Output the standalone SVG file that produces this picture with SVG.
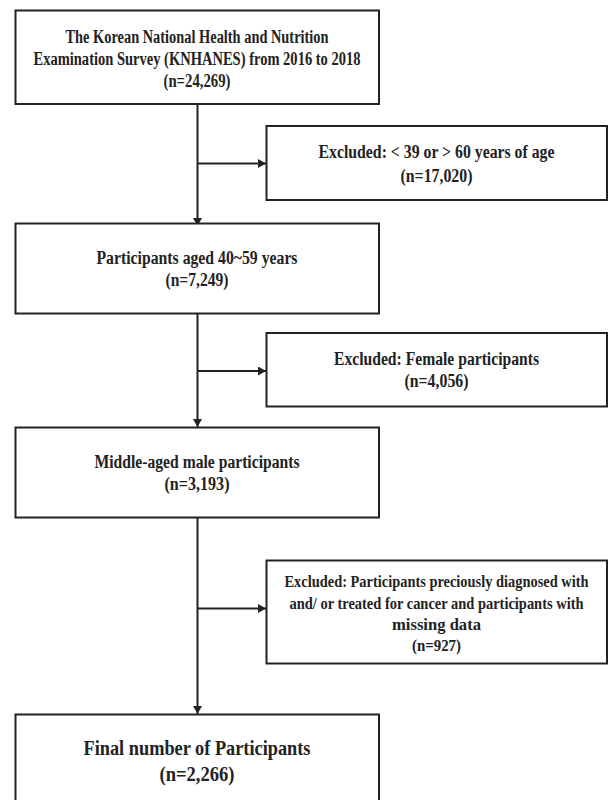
<svg xmlns="http://www.w3.org/2000/svg" width="608" height="800" viewBox="0 0 608 800">
<style>
.box{fill:#fff;stroke:#222;stroke-width:2}
.t{font-family:"Liberation Serif","Times New Roman",serif;font-weight:bold;font-size:18px;fill:#222;text-anchor:middle}
.sm{font-size:16.5px}
.big{font-size:22px}
.c{fill:none;stroke:#222;stroke-width:2}
</style>
<defs>
<marker id="ah" markerWidth="8" markerHeight="9" refX="8" refY="4.5" orient="auto" markerUnits="userSpaceOnUse">
<path d="M0,0 L8,4.5 L0,9 Z" fill="#222"/>
</marker>
</defs>
<rect width="608" height="800" fill="#fff"/>
<g id="connectors">
<path class="c" d="M197.5,104 V226" marker-end="url(#ah)"/>
<path class="c" d="M197.5,163.5 H266" marker-end="url(#ah)"/>
<path class="c" d="M197.5,313 V427" marker-end="url(#ah)"/>
<path class="c" d="M197.5,371 H266" marker-end="url(#ah)"/>
<path class="c" d="M197.5,518 V714" marker-end="url(#ah)"/>
<path class="c" d="M197.5,608.5 H266" marker-end="url(#ah)"/>
</g>
<g id="n1">
<rect class="box" x="15.5" y="10.5" width="363.5" height="93.5"/>
<text class="t" x="197" y="43.2" textLength="263" lengthAdjust="spacingAndGlyphs">The Korean National Health and Nutrition</text>
<text class="t" x="197" y="64.8" textLength="327" lengthAdjust="spacingAndGlyphs">Examination Survey (KNHANES) from 2016 to 2018</text>
<text class="t" x="197" y="86.5" textLength="67" lengthAdjust="spacingAndGlyphs">(n=24,269)</text>
</g>
<g id="e1">
<rect class="box" x="266.5" y="126" width="340.5" height="74"/>
<text class="t" x="436.5" y="158.3" textLength="236" lengthAdjust="spacingAndGlyphs">Excluded: &lt; 39 or &gt; 60 years of age</text>
<text class="t" x="436.5" y="181.5" textLength="72" lengthAdjust="spacingAndGlyphs">(n=17,020)</text>
</g>
<g id="n2">
<rect class="box" x="15.5" y="223.5" width="363.5" height="90"/>
<text class="t" x="197" y="263.8" textLength="201" lengthAdjust="spacingAndGlyphs">Participants aged 40~59 years</text>
<text class="t" x="197" y="285.8" textLength="63" lengthAdjust="spacingAndGlyphs">(n=7,249)</text>
</g>
<g id="e2">
<rect class="box" x="266.5" y="333" width="340.5" height="73.5"/>
<text class="t" x="436.5" y="364.8" textLength="205" lengthAdjust="spacingAndGlyphs">Excluded: Female participants</text>
<text class="t" x="436.5" y="387.2" textLength="64" lengthAdjust="spacingAndGlyphs">(n=4,056)</text>
</g>
<g id="n3">
<rect class="box" x="15.5" y="427.5" width="363.5" height="90"/>
<text class="t" x="197" y="468.2" textLength="205" lengthAdjust="spacingAndGlyphs">Middle-aged male participants</text>
<text class="t" x="197" y="489.5" textLength="65" lengthAdjust="spacingAndGlyphs">(n=3,193)</text>
</g>
<g id="e3">
<rect class="box" x="266.5" y="560.5" width="340.5" height="103"/>
<text class="t sm" x="436.5" y="587" textLength="304" lengthAdjust="spacingAndGlyphs">Excluded: Participants preciously diagnosed with</text>
<text class="t sm" x="436.5" y="608.5" textLength="294" lengthAdjust="spacingAndGlyphs">and/ or treated for cancer and participants with</text>
<text class="t sm" x="436.5" y="629.5" textLength="89" lengthAdjust="spacingAndGlyphs">missing data</text>
<text class="t sm" x="436.5" y="650.5" textLength="49" lengthAdjust="spacingAndGlyphs">(n=927)</text>
</g>
<g id="n4">
<rect class="box" x="15.5" y="714.5" width="363.5" height="110"/>
<text class="t big" x="197" y="755" textLength="227" lengthAdjust="spacingAndGlyphs">Final number of Participants</text>
<text class="t big" x="197" y="780.5" textLength="75" lengthAdjust="spacingAndGlyphs">(n=2,266)</text>
</g>
</svg>
